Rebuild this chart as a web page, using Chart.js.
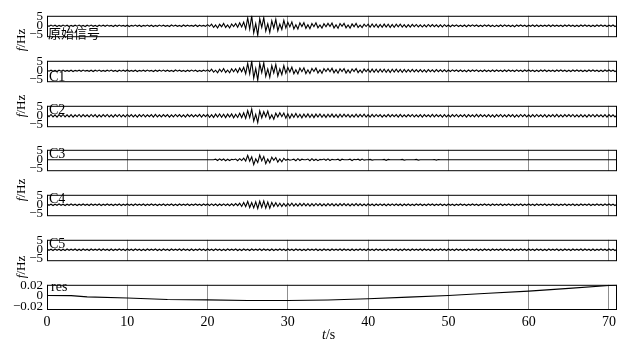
<!DOCTYPE html>
<html><head><meta charset="utf-8">
<script src="https://cdn.jsdelivr.net/npm/chart.js@4/dist/chart.umd.min.js"></script>
<style>
html,body{margin:0;padding:0;background:#fff;}
#wrap{position:relative;width:636px;height:343px;overflow:hidden;font-family:"Liberation Serif",serif;color:#000;}
.pane{position:absolute;left:0;}
.pane canvas{display:block;}
.lbl{position:absolute;font-size:14px;line-height:14px;white-space:nowrap;z-index:5;}
.cjk{font-family:"Noto Sans CJK SC",sans-serif;font-size:13px;line-height:13px;}
.ylab{position:absolute;font-size:13px;line-height:13px;white-space:nowrap;transform:translate(-50%,-50%) rotate(-90deg);z-index:5;}
</style></head><body><div id="wrap"></div>
<script>
// ---------- data ----------
const sampleStep = 0.25;          // seconds between samples
const xMax = 71;
const xTicks = [0,10,20,30,40,50,60,70];
const sigTicks = [-5,0,5];
const resTicks = [-0.02,0,0.02];
const panelNames = ['原始信号','C1','C2','C3','C4','C5','res'];

const original = [
0.2,-0.3,0.4,-0.2,0.3,-0.4,0.2,-0.3,0.4,-0.2,0.3,-0.4,0.2,-0.3,0.3,-0.2,0.4,-0.3,0.2,-0.4,
0.3,-0.2,0.4,-0.3,0.2,-0.4,0.3,-0.2,0.3,-0.3,0.4,-0.2,0.2,-0.4,0.3,-0.3,0.4,-0.2,0.2,-0.3,
0.3,-0.4,0.2,-0.2,0.4,-0.3,0.3,-0.4,0.2,-0.2,0.4,-0.3,0.3,-0.4,0.2,-0.3,0.4,-0.2,0.3,-0.3,
0.2,-0.4,0.4,-0.2,0.3,-0.3,0.2,-0.4,0.4,-0.3,0.3,-0.2,0.2,-0.3,0.4,-0.4,0.3,-0.2,0.2,-0.3,
0.6,-0.3,0.9,-0.9,0.4,-1.2,0.8,-0.5,1.3,-0.9,0.5,-1.2,1.0,-0.4,1.2,-0.8,1.6,-0.6,2.0,-1.7,
4.2,-1.8,5.4,-3.9,1.2,-5.2,3.8,-0.9,4.4,-2.9,1.1,-3.6,2.7,-1.3,3.5,-2.8,0.9,-2.0,2.9,-1.2,
1.9,-0.6,2.1,-1.7,0.5,-1.8,1.6,-0.4,1.7,-1.4,0.6,-1.6,1.2,-0.5,1.6,-1.1,0.4,-1.3,1.1,-0.5,
1.3,-0.4,1.5,-1.2,0.5,-1.4,1.2,-0.3,1.3,-1.1,0.4,-1.3,1.0,-0.5,1.3,-0.9,0.3,-1.0,0.9,-0.4,
0.9,-0.8,1.0,-0.7,0.8,-0.9,0.7,-0.8,0.9,-0.7,0.8,-0.9,0.7,-0.8,0.9,-0.6,0.8,-0.7,0.6,-0.8,
0.6,-0.7,0.7,-0.5,0.7,-0.6,0.5,-0.7,0.5,-0.6,0.7,-0.5,0.6,-0.5,0.5,-0.6,0.5,-0.6,0.6,-0.4,
0.4,-0.5,0.4,-0.3,0.5,-0.4,0.3,-0.4,0.4,-0.5,0.4,-0.3,0.5,-0.3,0.4,-0.4,0.3,-0.4,0.5,-0.3,
0.4,-0.4,0.3,-0.5,0.3,-0.4,0.4,-0.4,0.5,-0.3,0.3,-0.4,0.3,-0.5,0.4,-0.3,0.4,-0.3,0.3,-0.4,
0.3,-0.3,0.4,-0.4,0.4,-0.4,0.3,-0.3,0.3,-0.3,0.4,-0.4,0.4,-0.3,0.3,-0.3,0.3,-0.4,0.4,-0.3,
0.4,-0.3,0.3,-0.4,0.3,-0.4,0.4,-0.3,0.4,-0.3,0.3,-0.4,0.3,-0.4,0.4,-0.3,0.4,-0.3,0.3,-0.4,
0.3,-0.3,0.4,-0.4,0.2];

const c1 = [
0.3,-0.2,0.3,-0.3,0.2,-0.4,0.3,-0.2,0.4,-0.3,0.2,-0.3,0.3,-0.4,0.2,-0.2,0.3,-0.3,0.4,-0.2,
0.2,-0.3,0.3,-0.4,0.3,-0.2,0.4,-0.3,0.2,-0.3,0.3,-0.2,0.4,-0.3,0.2,-0.4,0.3,-0.2,0.3,-0.3,
0.4,-0.3,0.2,-0.3,0.3,-0.4,0.2,-0.2,0.3,-0.3,0.4,-0.2,0.2,-0.4,0.3,-0.3,0.3,-0.2,0.4,-0.3,
0.3,-0.3,0.2,-0.4,0.4,-0.2,0.3,-0.3,0.2,-0.4,0.3,-0.3,0.4,-0.2,0.3,-0.4,0.2,-0.3,0.3,-0.2,
0.5,-0.4,0.9,-0.8,0.3,-1.1,0.8,-0.6,1.2,-0.9,0.4,-1.1,1.1,-0.5,1.1,-0.9,1.5,-0.5,1.9,-1.6,
4.0,-1.7,5.3,-4.0,1.3,-5.1,3.9,-1.0,4.3,-3.0,1.0,-3.5,2.8,-1.2,3.4,-2.9,1.0,-2.1,2.8,-1.3,
1.8,-0.7,2.0,-1.6,0.6,-1.7,1.5,-0.5,1.6,-1.5,0.5,-1.5,1.3,-0.4,1.5,-1.2,0.5,-1.4,1.2,-0.4,
1.2,-0.5,1.4,-1.1,0.6,-1.3,1.1,-0.4,1.2,-1.2,0.5,-1.2,1.0,-0.4,1.2,-1.0,0.4,-1.1,0.9,-0.5,
0.9,-0.8,0.9,-0.8,0.8,-0.8,0.8,-0.7,0.8,-0.8,0.7,-0.9,0.8,-0.7,0.8,-0.7,0.7,-0.8,0.7,-0.7,
0.6,-0.6,0.7,-0.6,0.6,-0.6,0.6,-0.6,0.5,-0.7,0.6,-0.5,0.5,-0.6,0.6,-0.5,0.5,-0.5,0.5,-0.5,
0.4,-0.4,0.5,-0.3,0.4,-0.4,0.4,-0.4,0.3,-0.5,0.4,-0.4,0.4,-0.3,0.5,-0.4,0.3,-0.4,0.4,-0.4,
0.3,-0.4,0.4,-0.4,0.4,-0.3,0.3,-0.4,0.4,-0.4,0.4,-0.3,0.3,-0.4,0.5,-0.3,0.3,-0.4,0.4,-0.3,
0.4,-0.3,0.3,-0.4,0.3,-0.4,0.4,-0.3,0.4,-0.4,0.3,-0.3,0.3,-0.4,0.4,-0.3,0.4,-0.3,0.3,-0.4,
0.3,-0.4,0.4,-0.3,0.4,-0.3,0.3,-0.4,0.3,-0.4,0.4,-0.3,0.4,-0.3,0.3,-0.4,0.3,-0.4,0.4,-0.3,
0.4,-0.3,0.3,-0.4,0.2];

const c2 = [
0.6,-0.5,0.7,-0.6,0.5,-0.7,0.6,-0.5,0.7,-0.6,0.5,-0.6,0.6,-0.7,0.5,-0.5,0.7,-0.6,0.6,-0.5,
0.5,-0.6,0.7,-0.5,0.6,-0.7,0.5,-0.6,0.6,-0.5,0.7,-0.6,0.5,-0.7,0.6,-0.5,0.7,-0.6,0.5,-0.6,
0.7,-0.5,0.6,-0.6,0.5,-0.7,0.6,-0.5,0.7,-0.6,0.5,-0.5,0.6,-0.7,0.7,-0.6,0.5,-0.6,0.6,-0.5,
0.6,-0.7,0.5,-0.6,0.7,-0.5,0.6,-0.6,0.5,-0.7,0.7,-0.5,0.6,-0.6,0.5,-0.5,0.7,-0.7,0.6,-0.5,
0.7,-0.8,0.6,-0.9,0.9,-0.7,1.0,-0.8,0.8,-1.0,0.9,-0.7,1.0,-1.1,0.8,-0.9,1.3,-1.0,1.6,-1.4,
2.8,-1.0,3.6,-2.9,0.8,-3.7,2.6,-1.1,2.2,-0.6,2.5,-1.6,0.5,-1.9,1.4,-0.7,1.6,-0.5,1.5,-1.3,
1.1,-1.3,1.0,-0.9,1.2,-0.9,0.8,-1.1,0.9,-0.8,1.0,-0.9,0.8,-1.0,0.9,-0.7,1.0,-0.8,0.7,-0.9,
0.8,-0.7,0.9,-0.8,0.7,-0.9,0.8,-0.7,0.9,-0.6,0.7,-0.8,0.6,-0.7,0.8,-0.7,0.7,-0.6,0.8,-0.7,
0.6,-0.7,0.7,-0.6,0.7,-0.5,0.6,-0.7,0.5,-0.6,0.7,-0.6,0.6,-0.5,0.6,-0.7,0.7,-0.6,0.5,-0.6,
0.6,-0.5,0.7,-0.6,0.5,-0.6,0.6,-0.7,0.6,-0.5,0.5,-0.6,0.7,-0.6,0.6,-0.5,0.5,-0.7,0.6,-0.6,
0.5,-0.6,0.6,-0.5,0.7,-0.6,0.5,-0.5,0.6,-0.7,0.6,-0.5,0.5,-0.6,0.7,-0.6,0.6,-0.5,0.5,-0.6,
0.6,-0.6,0.5,-0.7,0.6,-0.5,0.7,-0.6,0.5,-0.6,0.6,-0.5,0.6,-0.7,0.5,-0.6,0.7,-0.5,0.6,-0.6,
0.5,-0.6,0.6,-0.6,0.7,-0.5,0.5,-0.6,0.6,-0.7,0.5,-0.5,0.6,-0.6,0.7,-0.6,0.5,-0.6,0.6,-0.5,
0.6,-0.5,0.7,-0.6,0.5,-0.6,0.6,-0.6,0.5,-0.7,0.6,-0.5,0.7,-0.6,0.6,-0.5,0.5,-0.6,0.6,-0.7,
0.6,-0.5,0.5,-0.6,0.4];

const c3 = [
0,0,0,0,0,0,0,0,0,0,0,0,0,0,0,0,0,0,0,0,
0,0,0,0,0,0,0,0,0,0,0,0,0,0,0,0,0,0,0,0,
0,0,0,0,0,0,0,0,0,0,0,0,0,0,0,0,0,0,0,0,
0,0,0,0,0,0,0,0,0,0,0,0,0,0,0,0,0,0,0,0,
0,0,0,0,0.3,-0.4,0.5,-0.3,0.4,-0.5,0.3,-0.4,0.2,0,0.4,-0.5,0.6,-0.4,0.9,-0.7,
2.4,-0.8,1.6,-2.6,0.5,-1.5,2.5,-0.6,1.7,-2.1,0.4,-1.6,1.4,-0.3,1.2,-1.3,0.4,-1.1,0.8,-0.3,
0.3,-0.2,0,0.3,-0.5,0.6,-0.4,0.3,0,0,0.4,-0.5,0.6,-0.4,0.3,-0.5,0.2,0,0.4,-0.3,
0.5,-0.4,0.2,0,0,0.3,-0.4,0.3,0,0,0,0.3,-0.4,0.2,0,0.3,-0.3,0.4,-0.2,0,
0,0.2,-0.2,0,0,0,0,0,0.2,-0.3,0.2,0,0,0,0,0,0,0.2,-0.2,0,
0,0,0,0,0.2,-0.2,0,0,0,0,0,0,0,0.1,-0.2,0.1,0,0,0,0,
0,0,0,0,0,0,0,0,0,0,0,0,0,0,0,0,0,0,0,0,
0,0,0,0,0,0,0,0,0,0,0,0,0,0,0,0,0,0,0,0,
0,0,0,0,0,0,0,0,0,0,0,0,0,0,0,0,0,0,0,0,
0,0,0,0,0,0,0,0,0,0,0,0,0,0,0,0,0,0,0,0,
0,0,0,0,0];

const c4 = [
0.4,-0.3,0.3,-0.4,0.3,-0.3,0.4,-0.3,0.3,-0.4,0.3,-0.3,0.4,-0.3,0.3,-0.4,0.3,-0.3,0.4,-0.3,
0.3,-0.4,0.4,-0.3,0.3,-0.3,0.4,-0.4,0.3,-0.3,0.4,-0.3,0.3,-0.4,0.3,-0.3,0.4,-0.4,0.3,-0.3,
0.4,-0.3,0.3,-0.4,0.4,-0.3,0.3,-0.3,0.4,-0.4,0.3,-0.3,0.4,-0.3,0.3,-0.4,0.3,-0.3,0.4,-0.4,
0.3,-0.3,0.4,-0.4,0.3,-0.4,0.4,-0.3,0.3,-0.3,0.4,-0.4,0.3,-0.3,0.4,-0.3,0.3,-0.4,0.4,-0.3,
0.4,-0.4,0.5,-0.4,0.4,-0.5,0.4,-0.4,0.5,-0.4,0.4,-0.5,0.5,-0.5,0.6,-0.5,0.8,-0.9,1.2,-1.0,
1.8,-1.5,1.2,-1.7,1.6,-2.0,1.9,-1.4,2.1,-1.8,1.5,-1.9,1.3,-1.0,1.1,-0.9,0.8,-0.9,0.7,-0.8,
0.7,-0.6,0.8,-0.7,0.6,-0.7,0.7,-0.6,0.7,-0.6,0.6,-0.7,0.6,-0.6,0.7,-0.5,0.6,-0.6,0.5,-0.6,
0.6,-0.5,0.6,-0.6,0.5,-0.6,0.6,-0.5,0.6,-0.5,0.5,-0.6,0.5,-0.5,0.6,-0.5,0.5,-0.5,0.4,-0.5,
0.5,-0.4,0.4,-0.5,0.4,-0.4,0.5,-0.4,0.4,-0.5,0.4,-0.4,0.5,-0.4,0.4,-0.4,0.4,-0.5,0.4,-0.4,
0.4,-0.4,0.3,-0.4,0.4,-0.3,0.4,-0.4,0.3,-0.4,0.4,-0.3,0.4,-0.4,0.3,-0.3,0.4,-0.4,0.3,-0.4,
0.4,-0.3,0.3,-0.4,0.3,-0.3,0.4,-0.3,0.3,-0.4,0.3,-0.3,0.4,-0.3,0.3,-0.4,0.3,-0.3,0.4,-0.3,
0.3,-0.4,0.4,-0.3,0.3,-0.3,0.4,-0.4,0.3,-0.3,0.4,-0.3,0.3,-0.4,0.3,-0.3,0.4,-0.4,0.3,-0.3,
0.4,-0.3,0.3,-0.4,0.4,-0.3,0.3,-0.3,0.4,-0.4,0.3,-0.3,0.4,-0.3,0.3,-0.4,0.3,-0.3,0.4,-0.4,
0.3,-0.3,0.4,-0.4,0.3,-0.4,0.4,-0.3,0.3,-0.3,0.4,-0.4,0.3,-0.3,0.4,-0.3,0.3,-0.4,0.4,-0.3,
0.4,-0.3,0.3,-0.4,0.3];

const c5 = [
0.4,-0.3,0.3,-0.4,0.4,-0.3,0.3,-0.4,0.3,-0.4,0.4,-0.3,0.3,-0.3,0.4,-0.4,0.3,-0.4,0.4,-0.3,
0.3,-0.4,0.4,-0.3,0.3,-0.3,0.4,-0.4,0.4,-0.3,0.3,-0.4,0.4,-0.4,0.3,-0.3,0.4,-0.3,0.3,-0.4,
0.4,-0.3,0.3,-0.4,0.4,-0.3,0.3,-0.4,0.3,-0.4,0.4,-0.3,0.3,-0.3,0.4,-0.4,0.3,-0.4,0.4,-0.3,
0.3,-0.4,0.4,-0.3,0.3,-0.3,0.4,-0.4,0.4,-0.3,0.3,-0.4,0.4,-0.4,0.3,-0.3,0.4,-0.3,0.3,-0.4,
0.4,-0.3,0.3,-0.4,0.4,-0.3,0.3,-0.4,0.3,-0.4,0.4,-0.3,0.3,-0.3,0.4,-0.4,0.3,-0.4,0.4,-0.3,
0.3,-0.4,0.4,-0.3,0.3,-0.3,0.4,-0.4,0.4,-0.3,0.3,-0.4,0.4,-0.4,0.3,-0.3,0.4,-0.3,0.3,-0.4,
0.4,-0.3,0.3,-0.4,0.4,-0.3,0.3,-0.4,0.3,-0.4,0.4,-0.3,0.3,-0.3,0.4,-0.4,0.3,-0.4,0.4,-0.3,
0.3,-0.4,0.4,-0.3,0.3,-0.3,0.4,-0.4,0.4,-0.3,0.3,-0.4,0.4,-0.4,0.3,-0.3,0.4,-0.3,0.3,-0.4,
0.4,-0.3,0.3,-0.4,0.4,-0.3,0.3,-0.4,0.3,-0.4,0.4,-0.3,0.3,-0.3,0.4,-0.4,0.3,-0.4,0.4,-0.3,
0.3,-0.4,0.4,-0.3,0.3,-0.3,0.4,-0.4,0.4,-0.3,0.3,-0.4,0.4,-0.4,0.3,-0.3,0.4,-0.3,0.3,-0.4,
0.4,-0.3,0.3,-0.4,0.4,-0.3,0.3,-0.4,0.3,-0.4,0.4,-0.3,0.3,-0.3,0.4,-0.4,0.3,-0.4,0.4,-0.3,
0.3,-0.4,0.4,-0.3,0.3,-0.3,0.4,-0.4,0.4,-0.3,0.3,-0.4,0.4,-0.4,0.3,-0.3,0.4,-0.3,0.3,-0.4,
0.4,-0.3,0.3,-0.4,0.4,-0.3,0.3,-0.4,0.3,-0.4,0.4,-0.3,0.3,-0.3,0.4,-0.4,0.3,-0.4,0.4,-0.3,
0.3,-0.4,0.4,-0.3,0.3,-0.3,0.4,-0.4,0.4,-0.3,0.3,-0.4,0.4,-0.4,0.3,-0.3,0.4,-0.3,0.3,-0.4,
0.4,-0.3,0.3,-0.4,0.3];

const resTime   = [0, 3, 5, 10, 15, 20, 25, 30, 35, 40, 45, 50, 55, 60, 65, 70, 71];
const resValues = [0.0005, 0.0003, -0.002, -0.004, -0.007, -0.0078, -0.0088, -0.009, -0.008, -0.0055, -0.0025, 0.0007, 0.0048, 0.009, 0.0142, 0.0198, 0.0205];

// ---------- layout ----------
const PLOT_L = 47, PLOT_R = 617, PANEL_H = 29, PAD = 8, XAXIS_H = 26;
const panelTops = [12, 57, 102, 146, 191, 236, 281];
const sigRange = [-6.2, 5.4];
const resRange = [-0.027, 0.021];

const wrap = document.getElementById('wrap');
const fmt = v => (v < 0 ? '\u2212' + String(-v) : String(v));
const yFont = {family: 'Liberation Serif', size: 13};
const xFont = {family: 'Liberation Serif', size: 14};

const framePlugin = {
  id: 'frame',
  afterDraw(chart) {
    const {ctx, chartArea: a} = chart;
    ctx.save();
    ctx.strokeStyle = '#000';
    ctx.lineWidth = 1;
    ctx.strokeRect(a.left + 0.5, a.top + 0.5, a.right - a.left - 1, a.bottom - a.top - 1);
    ctx.restore();
  }
};

function makePanel(idx, points, range, yTickVals, isLast) {
  const h = PAD + PANEL_H + (isLast ? XAXIS_H : PAD);
  const div = document.createElement('div');
  div.className = 'pane';
  div.style.top = (panelTops[idx] - PAD) + 'px';
  const cv = document.createElement('canvas');
  cv.width = 636; cv.height = h;
  cv.style.width = '636px'; cv.style.height = h + 'px';
  div.appendChild(cv);
  wrap.appendChild(div);
  new Chart(cv, {
    type: 'line',
    data: {datasets: [{data: points, borderColor: '#000', borderWidth: 1.1,
      pointRadius: 0, tension: 0, fill: false}]},
    options: {
      responsive: false, animation: false, events: [],
      layout: {padding: {left: 0, right: 636 - PLOT_R, top: PAD, bottom: isLast ? 0 : PAD}},
      plugins: {legend: {display: false}, tooltip: {enabled: false}},
      scales: {
        x: {
          type: 'linear', min: 0, max: xMax,
          afterBuildTicks: s => { s.ticks = xTicks.map(v => ({value: v})); },
          afterFit: s => { s.height = isLast ? XAXIS_H : 0; },
          grid: {color: '#8f8f8f', lineWidth: 1, drawTicks: false},
          border: {display: false},
          ticks: {display: isLast, padding: 4, color: '#000', font: xFont, maxRotation: 0, autoSkip: false}
        },
        y: {
          min: range[0], max: range[1],
          afterBuildTicks: s => { s.ticks = yTickVals.map(v => ({value: v})); },
          afterFit: s => { s.width = PLOT_L; },
          grid: {display: false, drawTicks: false},
          border: {display: false},
          ticks: {padding: 4, color: '#000', font: yFont, autoSkip: false, callback: v => fmt(v)}
        }
      }
    },
    plugins: [framePlugin]
  });
}

const signals = [original, c1, c2, c3, c4, c5];
signals.forEach((arr, i) => {
  const pts = arr.map((v, k) => ({x: k * sampleStep, y: v}));
  makePanel(i, pts, sigRange, sigTicks, false);
});
makePanel(6, resTime.map((t, k) => ({x: t, y: resValues[k]})), resRange, resTicks, true);

// ---------- text ----------
const namePos = [[48, 26], [49, 70], [49, 103], [49, 147], [49, 192], [49, 237], [51, 280]];
panelNames.forEach((n, i) => {
  const d = document.createElement('div');
  d.className = 'lbl' + (i === 0 ? ' cjk' : '');
  d.style.left = namePos[i][0] + 'px';
  d.style.top = namePos[i][1] + 'px';
  d.textContent = n;
  wrap.appendChild(d);
});
[40, 106, 190, 267].forEach(yc => {
  const d = document.createElement('div');
  d.className = 'ylab';
  d.style.left = '20px';
  d.style.top = yc + 'px';
  d.innerHTML = '<i>f</i>/Hz';
  wrap.appendChild(d);
});
const xt = document.createElement('div');
xt.className = 'lbl';
xt.style.left = '322px';
xt.style.top = '328px';
xt.innerHTML = '<i>t</i>/s';
wrap.appendChild(xt);
</script></body></html>
